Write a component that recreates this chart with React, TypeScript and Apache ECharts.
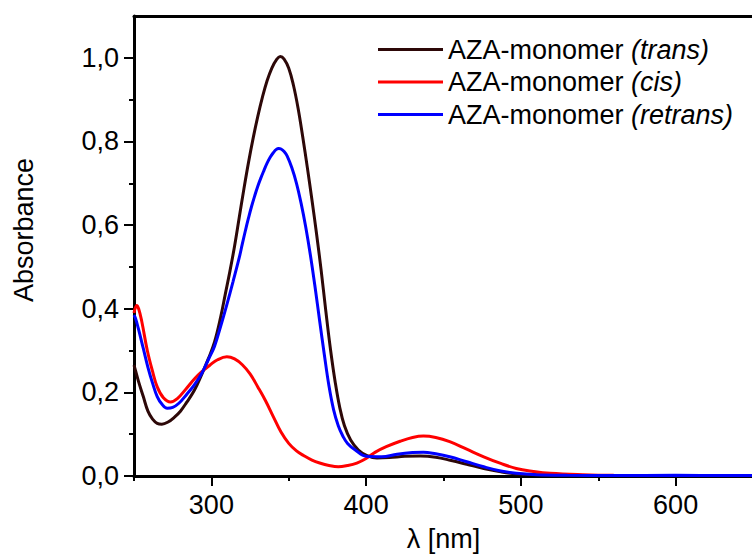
import React, { useEffect, useRef } from 'react';
import * as echarts from 'echarts';

const TRANS_X = [250, 251, 253, 256, 259, 262, 265, 268, 272, 276, 280, 284, 289, 294, 298, 302, 306, 309, 312, 315, 318, 321, 324, 327, 330, 333, 336, 339, 342, 344.5, 347, 350, 353, 356, 359, 362, 365, 368, 371, 374, 377, 380, 383, 386, 390, 395, 400, 407, 415, 425, 435, 445, 455, 465, 476, 487, 497, 510, 530, 560, 600, 650];
const TRANS_Y = [0.265, 0.252, 0.225, 0.19, 0.155, 0.136, 0.126, 0.124, 0.129, 0.14, 0.155, 0.176, 0.205, 0.245, 0.28, 0.32, 0.38, 0.435, 0.49, 0.55, 0.618, 0.686, 0.75, 0.808, 0.86, 0.906, 0.945, 0.975, 0.995, 1.003, 0.997, 0.975, 0.935, 0.88, 0.812, 0.738, 0.66, 0.578, 0.49, 0.393, 0.302, 0.225, 0.163, 0.12, 0.086, 0.062, 0.05, 0.043, 0.044, 0.047, 0.048, 0.045, 0.037, 0.028, 0.018, 0.01, 0.005, 0.003, 0.0015, 0.001, 0.001, 0.0005];

const CIS_X = [250, 251.7, 253, 255, 258.6, 262, 265, 269, 273.6, 278, 284, 289, 294, 299, 304, 310, 315, 320, 325, 330, 335, 340, 345, 350, 355, 360, 365, 370, 376, 382, 388, 394, 400, 406, 413, 422, 430, 437, 445, 454, 465, 476, 487, 497, 508, 519, 540, 560, 600, 650];
const CIS_Y = [0.39, 0.408, 0.4, 0.37, 0.3, 0.25, 0.213, 0.187, 0.177, 0.185, 0.21, 0.232, 0.25, 0.265, 0.278, 0.285, 0.28, 0.266, 0.244, 0.213, 0.18, 0.142, 0.105, 0.078, 0.06, 0.048, 0.038, 0.031, 0.025, 0.022, 0.025, 0.031, 0.042, 0.057, 0.07, 0.083, 0.092, 0.0955, 0.092, 0.082, 0.064, 0.046, 0.03, 0.018, 0.011, 0.0064, 0.003, 0.0015, 0.001, 0.001];

const RETRANS_X = [250, 251, 253, 256, 259, 262, 265, 268, 271.5, 275, 279, 284, 289, 294, 298, 302, 306, 310, 314, 318, 320, 322, 324, 326, 328, 330, 332, 334, 336, 338, 340, 342, 343.5, 345, 347, 349, 352, 355, 358, 361, 364, 367, 370, 373, 376, 379, 382, 385, 388, 393, 400, 410, 420, 430, 437, 445, 454, 465, 476, 487, 497, 510, 530, 560, 600, 650];
const RETRANS_Y = [0.385, 0.377, 0.35, 0.305, 0.26, 0.222, 0.19, 0.172, 0.162, 0.164, 0.174, 0.195, 0.218, 0.247, 0.278, 0.31, 0.358, 0.41, 0.465, 0.522, 0.555, 0.587, 0.617, 0.645, 0.67, 0.693, 0.713, 0.731, 0.748, 0.762, 0.773, 0.781, 0.783, 0.782, 0.776, 0.765, 0.737, 0.7, 0.652, 0.595, 0.528, 0.452, 0.37, 0.29, 0.215, 0.158, 0.12, 0.095, 0.078, 0.062, 0.047, 0.046, 0.052, 0.056, 0.057, 0.053, 0.046, 0.034, 0.022, 0.012, 0.0064, 0.003, 0.0015, 0.001, 0.0015, 0.001];

const SERIES_NAMES = ['AZA-monomer (trans)', 'AZA-monomer (cis)', 'AZA-monomer (retrans)'];
const SERIES_COLORS = ['#2d0808', '#ff0000', '#0000ff'];

const X_MAJOR_TICKS = [300, 400, 500, 600];
const X_MINOR_TICKS = [250, 350, 450, 550];
const Y_MAJOR_TICKS = [0, 0.2, 0.4, 0.6, 0.8, 1.0];
const Y_MINOR_TICKS = [0.1, 0.3, 0.5, 0.7, 0.9];

const X_NAME = 'λ [nm]';
const Y_NAME = 'Absorbance';

const FONT = '"Liberation Sans", Arial, sans-serif';

function zip(xs: number[], ys: number[]) {
  return xs.map((x, i) => [x, ys[i]]);
}

export default function App() {
  const ref = useRef<HTMLDivElement>(null);
  useEffect(() => {
    if (!ref.current) return;
    const chart = echarts.init(ref.current, null, { renderer: 'svg' });
    const datasets = [zip(TRANS_X, TRANS_Y), zip(CIS_X, CIS_Y), zip(RETRANS_X, RETRANS_Y)];
    const axisLine = { show: true, lineStyle: { color: '#000', width: 3 } };
    const common = { min: 250, max: 650, splitLine: { show: false } };
    const yCommon = { min: 0, max: 1.1, splitLine: { show: false } };
    chart.setOption({
      animation: false,
      backgroundColor: '#fff',
      grid: { left: 134, right: -1, top: 16, bottom: 78, containLabel: false, outerBoundsMode: 'none' },
      legend: {
        show: true,
        orient: 'vertical',
        left: 378,
        top: 36,
        padding: 0,
        icon: 'rect',
        itemWidth: 65,
        itemHeight: 3,
        itemGap: 5.5,
        data: SERIES_NAMES,
        formatter: (name: string) => name.replace(/^(AZA-monomer )\((.*)\)$/, '{n|$1}{i|($2)}'),
        textStyle: {
          color: '#000',
          fontSize: 27,
          fontFamily: FONT,
          rich: {
            n: { fontSize: 27, fontFamily: FONT, color: '#000' },
            i: { fontSize: 27, fontFamily: FONT, color: '#000', fontStyle: 'italic' },
          },
        },
      },
      xAxis: [
        {
          type: 'value',
          ...common,
          position: 'bottom',
          axisLine,
          axisTick: { show: true, customValues: X_MAJOR_TICKS, length: 10, lineStyle: { color: '#000', width: 2 } },
          axisLabel: { customValues: X_MAJOR_TICKS, margin: 15, color: '#000', fontSize: 27, fontFamily: FONT },
          name: X_NAME,
          nameLocation: 'middle',
          nameGap: 49,
          nameTextStyle: { color: '#000', fontSize: 27, fontFamily: FONT },
        },
        {
          type: 'value',
          ...common,
          position: 'bottom',
          axisLine: { show: false },
          axisTick: { show: true, customValues: X_MINOR_TICKS, length: 5, lineStyle: { color: '#000', width: 2 } },
          axisLabel: { show: false },
        },
        {
          type: 'value',
          ...common,
          position: 'top',
          axisLine,
          axisTick: { show: false },
          axisLabel: { show: false },
        },
      ],
      yAxis: [
        {
          type: 'value',
          ...yCommon,
          position: 'left',
          axisLine,
          axisTick: { show: true, customValues: Y_MAJOR_TICKS, length: 10, lineStyle: { color: '#000', width: 2 } },
          axisLabel: {
            customValues: Y_MAJOR_TICKS,
            margin: 15,
            color: '#000',
            fontSize: 27,
            fontFamily: FONT,
            formatter: (v: number) => v.toFixed(1).replace('.', ','),
          },
        },
        {
          type: 'value',
          ...yCommon,
          position: 'left',
          offset: 0,
          axisLine: { show: false },
          axisTick: { show: true, customValues: Y_MINOR_TICKS, length: 5, lineStyle: { color: '#000', width: 2 } },
          axisLabel: { show: false },
        },
      ],
      graphic: [
        {
          type: 'text',
          x: 24,
          y: 230,
          rotation: Math.PI / 2,
          style: {
            text: Y_NAME,
            fontSize: 27,
            fontFamily: FONT,
            fill: '#000',
            align: 'center',
            verticalAlign: 'middle',
          },
        },
      ],
      series: SERIES_NAMES.map((name, i) => ({
        name,
        type: 'line',
        data: datasets[i],
        xAxisIndex: 0,
        yAxisIndex: 0,
        smooth: 0.4,
        symbol: 'none',
        color: SERIES_COLORS[i],
        lineStyle: { color: SERIES_COLORS[i], width: 3 },
        clip: true,
      })),
    });
    return () => chart.dispose();
  }, []);
  return <div ref={ref} style={{ position: 'fixed', left: 0, top: 0, width: 752, height: 554 }} />;
}
